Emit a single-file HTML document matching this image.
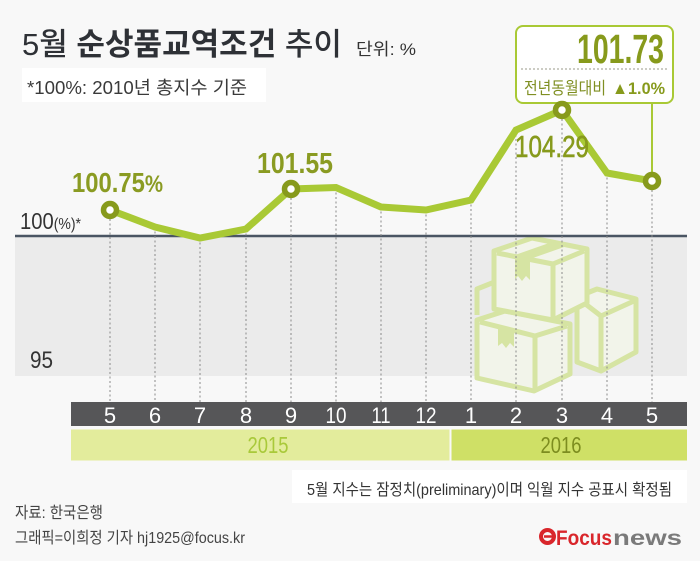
<!DOCTYPE html>
<html><head><meta charset="utf-8"><style>
html,body{margin:0;padding:0;background:#f8f8f8;}
svg{display:block;}
text{font-family:"Liberation Sans","Noto Sans CJK KR",sans-serif;}
</style></head><body>
<svg width="700" height="561" viewBox="0 0 700 561" xmlns="http://www.w3.org/2000/svg">
<rect x="0" y="0" width="700" height="561" fill="#f8f8f8"/>

<!-- Title -->
<text x="22" y="55" font-size="31" fill="#2e3136" textLength="320" lengthAdjust="spacingAndGlyphs"><tspan font-weight="500">5월 </tspan><tspan font-weight="bold">순상품교역조건</tspan><tspan font-weight="500"> 추이</tspan></text>
<text x="356" y="55" font-size="17" fill="#333" textLength="60" lengthAdjust="spacingAndGlyphs">단위: %</text>

<rect x="22" y="68" width="244" height="34" fill="#ffffff"/>
<text x="27" y="94" font-size="18" fill="#3a3a3a" textLength="220" lengthAdjust="spacingAndGlyphs">*100%: 2010년 총지수 기준</text>

<!-- Gray band -->
<rect x="15" y="236" width="672" height="140" fill="#ebebeb"/>

<!-- Boxes illustration -->
<g stroke="#d6e4a3" stroke-width="5" stroke-linejoin="round" fill="#f2f4ea">
  <path d="M477,315 L477,289 L497,281" fill="none"/>
  <polygon points="577,297 597,289 636,299 636,352 601,371 577,362"/>
  <polyline points="579,299 601,316 634,301" fill="none"/>
  <line x1="601" y1="316" x2="601" y2="369"/>
  <polygon points="477,320 505,311 570,324 570,374 534,391 477,378"/>
  <polyline points="480,322 535,336 567,326" fill="none"/>
  <line x1="535" y1="336" x2="535" y2="389"/>
  <polygon points="494,251 532,238 587,249 587,303 553,320 494,309"/>
  <polyline points="497,253 553,264 584,251" fill="none"/>
  <line x1="553" y1="264" x2="553" y2="318"/>
</g>
<g fill="#d6e4a3">
  <polygon points="515,255 530,259 567,246 552,242"/>
  <polygon points="515,255 530,259 530,280 526,276 522,281 518,276 515,279"/>
  <polygon points="498,327 514,331 514,347 510,343 506,348 502,343 498,346"/>
</g>

<!-- 100 line -->
<line x1="15" y1="236" x2="687" y2="236" stroke="#4a5563" stroke-width="2.5"/>

<!-- axis labels -->
<text x="20" y="229" font-size="23" fill="#333" textLength="61" lengthAdjust="spacingAndGlyphs">100<tspan font-size="16">(%)*</tspan></text>
<text x="30" y="368" font-size="24" fill="#333" textLength="23" lengthAdjust="spacingAndGlyphs">95</text>

<!-- dotted verticals -->
<g stroke="#8a8a8a" stroke-width="1" stroke-dasharray="2,2.5">
  <line x1="110" y1="210" x2="110" y2="402"/>
  <line x1="155" y1="227" x2="155" y2="402"/>
  <line x1="200" y1="238" x2="200" y2="402"/>
  <line x1="246" y1="229" x2="246" y2="402"/>
  <line x1="291" y1="189" x2="291" y2="402"/>
  <line x1="336" y1="188" x2="336" y2="402"/>
  <line x1="381" y1="207" x2="381" y2="402"/>
  <line x1="426" y1="210" x2="426" y2="402"/>
  <line x1="471" y1="200" x2="471" y2="402"/>
  <line x1="516" y1="130" x2="516" y2="402"/>
  <line x1="562" y1="110" x2="562" y2="402"/>
  <line x1="607" y1="173" x2="607" y2="402"/>
  <line x1="652" y1="181" x2="652" y2="402"/>
</g>

<!-- callout -->
<line x1="652" y1="103" x2="652" y2="175" stroke="#a9c935" stroke-width="2"/>
<rect x="516" y="26" width="157" height="77" rx="7" ry="7" fill="#ffffff" stroke="#a9c935" stroke-width="2"/>
<line x1="521" y1="69" x2="668" y2="69" stroke="#9a9a8a" stroke-width="1" stroke-dasharray="2,2"/>
<text x="577" y="63" font-size="41" font-weight="bold" fill="#879a1c" textLength="87" lengthAdjust="spacingAndGlyphs">101.73</text>
<text x="524" y="94" font-size="17" fill="#7f8f22" textLength="82" lengthAdjust="spacingAndGlyphs">전년동월대비</text>
<text x="612" y="94" font-size="17" font-weight="bold" fill="#879a1c" textLength="53" lengthAdjust="spacingAndGlyphs">▲1.0%</text>

<!-- series line -->
<polyline points="110,210 155,227 200,238 246,229 291,189 336,187.5 381,207 426,210 471,200 516,130 562,110 607,173 652,181" fill="none" stroke="#a9c935" stroke-width="7" stroke-linejoin="miter"/>

<!-- markers -->
<g fill="#ffffff" stroke="#879a1c" stroke-width="5.5">
  <circle cx="110" cy="210" r="6.5"/>
  <circle cx="291" cy="189" r="6.5"/>
  <circle cx="562" cy="110" r="6.5"/>
  <circle cx="652" cy="181" r="6.5"/>
</g>

<!-- data labels -->
<text x="72" y="192" font-size="28" font-weight="bold" fill="#8a9b22" textLength="91" lengthAdjust="spacingAndGlyphs">100.75<tspan font-size="24">%</tspan></text>
<text x="257" y="173" font-size="29" font-weight="bold" fill="#8a9b22" textLength="76" lengthAdjust="spacingAndGlyphs">101.55</text>
<text x="515" y="157" font-size="31" fill="#879a1c" stroke="#879a1c" stroke-width="0.6" textLength="74" lengthAdjust="spacingAndGlyphs">104.29</text>

<!-- month bar -->
<rect x="71" y="402" width="616" height="24" fill="#565658"/>
<g font-size="22" fill="#ffffff" text-anchor="middle">
  <text x="110" y="423">5</text>
  <text x="155" y="423">6</text>
  <text x="200" y="423">7</text>
  <text x="246" y="423">8</text>
  <text x="291" y="423">9</text>
  <text x="336" y="423" textLength="21" lengthAdjust="spacingAndGlyphs">10</text>
  <text x="381" y="423" textLength="19" lengthAdjust="spacingAndGlyphs">11</text>
  <text x="426" y="423" textLength="21" lengthAdjust="spacingAndGlyphs">12</text>
  <text x="471" y="423">1</text>
  <text x="516" y="423">2</text>
  <text x="562" y="423">3</text>
  <text x="607" y="423">4</text>
  <text x="652" y="423">5</text>
</g>

<!-- year bars -->
<rect x="71" y="429.5" width="378.5" height="31" fill="#e3ec9c"/>
<rect x="451.5" y="429.5" width="235.5" height="31" fill="#cfe066"/>
<text x="268" y="453" font-size="23" fill="#a9c93a" text-anchor="middle" textLength="41" lengthAdjust="spacingAndGlyphs">2015</text>
<text x="561" y="453" font-size="23" fill="#7d8d1f" text-anchor="middle" textLength="41" lengthAdjust="spacingAndGlyphs">2016</text>

<!-- footnote -->
<rect x="292" y="470" width="395" height="33" fill="#ffffff"/>
<text x="307" y="495" font-size="16" fill="#333" textLength="365" lengthAdjust="spacingAndGlyphs">5월 지수는 잠정치(preliminary)이며 익월 지수 공표시 확정됨</text>

<text x="15" y="518" font-size="16" fill="#444" textLength="88" lengthAdjust="spacingAndGlyphs">자료: 한국은행</text>
<text x="15" y="543" font-size="16" fill="#444" textLength="230" lengthAdjust="spacingAndGlyphs">그래픽=이희정 기자 hj1925@focus.kr</text>

<!-- logo -->
<circle cx="547.5" cy="536.5" r="6.5" fill="none" stroke="#d9262b" stroke-width="4"/>
<line x1="544" y1="536.5" x2="552" y2="536.5" stroke="#d9262b" stroke-width="2.5"/>
<text x="556" y="545" font-size="21" font-weight="bold" fill="#d9262b" textLength="56" lengthAdjust="spacingAndGlyphs">Focus</text>
<text x="613" y="545" font-size="21" font-weight="bold" fill="#7a7a7a" textLength="69" lengthAdjust="spacingAndGlyphs">news</text>
</svg>
</body></html>
